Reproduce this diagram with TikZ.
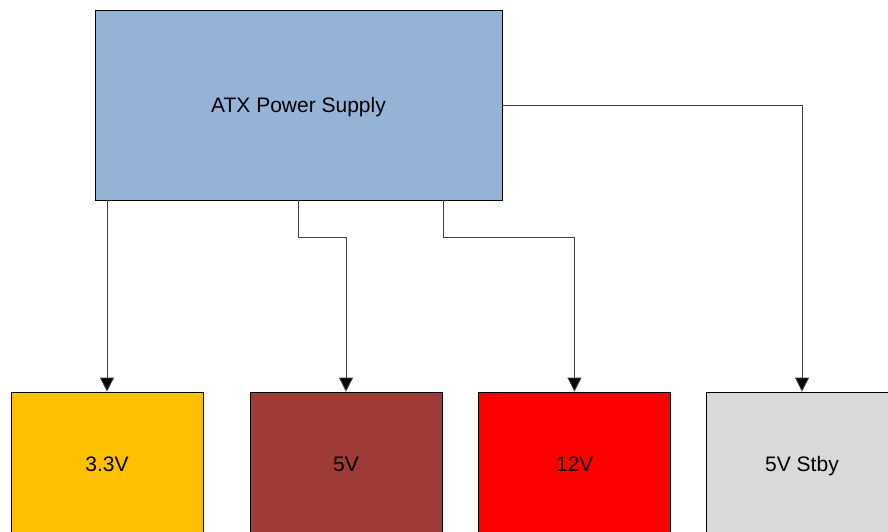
\documentclass[tikz,border=0pt]{standalone}
\usepackage{fontspec}
\setmainfont{Liberation Sans}
\usetikzlibrary{arrows.meta}
\definecolor{psublue}{RGB}{149,179,215}
\definecolor{railamber}{RGB}{255,192,0}
\definecolor{railbrown}{RGB}{158,59,54}
\definecolor{railred}{RGB}{255,0,0}
\definecolor{railgray}{RGB}{217,217,217}
\begin{document}
\begin{tikzpicture}[x=1pt,y=1pt,
    font=\fontsize{21}{25}\selectfont,
    box/.style={draw=black, line width=0.8pt, inner sep=0pt,
      text height=17pt, text depth=2pt},
    rail/.style={box, minimum width=192pt, minimum height=144pt},
    conn/.style={draw=black!75, line width=0.8pt,
      -{Triangle[length=14pt,width=14pt,fill=black]}}]
  \useasboundingbox (0,0) rectangle (888,531);
  % Netzteil oben
  \node[box, fill=psublue, minimum width=407pt, minimum height=190pt]
    (psu) at (298.5,426) {ATX Power Supply};
  % Spannungsschienen unten
  \node[rail, fill=railamber] (v33) at (107,67) {3.3V};
  \node[rail, fill=railbrown] (v5) at (346,67) {5V};
  \node[rail, fill=railred] (v12) at (574.5,67) {12V};
  \node[rail, fill=railgray] (vsb) at (802,67) {5V Stby};
  % Leitungen
  \draw[conn] (psu.south -| v33.north) -- (v33.north);
  \draw[conn] (psu.south) -- ++(0,-37) -| (v5.north);
  \draw[conn] ([xshift=-59pt]psu.south east) -- ++(0,-37) -| (v12.north);
  \draw[conn] (psu.east) -| (vsb.north);
\end{tikzpicture}
\end{document}
